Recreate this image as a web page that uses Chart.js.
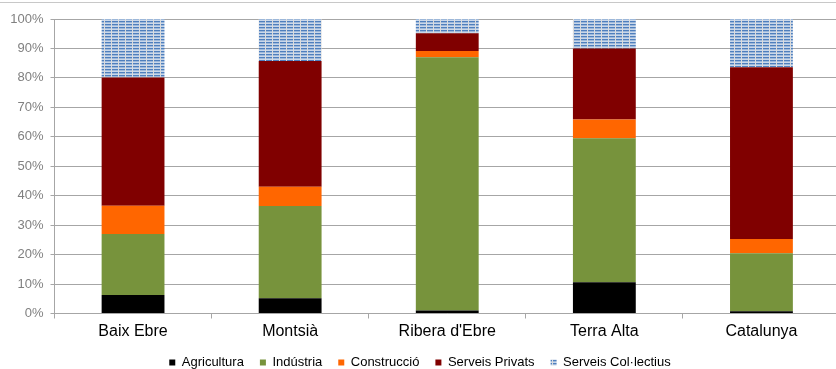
<!DOCTYPE html>
<html>
<head>
<meta charset="utf-8">
<script src="https://cdn.jsdelivr.net/npm/chart.js@4"></script>
<style>
    body { margin: 0; overflow: hidden; background: #fff; }
    #wrap { position: relative; width: 836px; height: 369px; overflow: hidden; }
    #frame { position: absolute; top: 2px; left: 0; width: 836px; border-top: 1px solid #c8c8c8; }
    canvas { position: absolute; top: 0; left: 0; }
</style>
</head>
<body>
<div id="wrap">
    <canvas id="chart" width="840" height="369"></canvas>
    <div id="frame"></div>
</div>
<script>
const categories = ["Baix Ebre", "Montsià", "Ribera d'Ebre", "Terra Alta", "Catalunya"];
const agricultura = [6.3, 5.2, 1.0, 10.6, 0.8];
const industria = [20.7, 31.3, 86.0, 48.9, 19.7];
const construccio = [9.6, 6.5, 2.1, 6.4, 4.8];
const serveisPrivats = [43.5, 42.7, 6.1, 24.1, 58.3];
const serveisCollectius = [19.9, 14.3, 4.8, 10.0, 16.4];
const yTicks = [0, 10, 20, 30, 40, 50, 60, 70, 80, 90, 100];

// striped fill for "Serveis Col·lectius"
function makePattern() {
    const c = document.createElement("canvas");
    c.width = 7;
    c.height = 3;
    const ctx = c.getContext("2d");
    const rows = ["#4f7fbd", "#9db8da", "#c9d7ea"];
    rows.forEach((col, i) => {
        ctx.fillStyle = col;
        ctx.fillRect(0, i, 7, 1);
    });
    ctx.fillStyle = "#dcdcdc";
    ctx.fillRect(6, 0, 1, 3);
    return ctx.createPattern(c, "repeat");
}

const axisGray = "#a6a6a6";
const font = "'Liberation Sans', Arial, sans-serif";

new Chart(document.getElementById("chart"), {
    type: "bar",
    data: {
        labels: categories,
        datasets: [
            { label: "Agricultura", data: agricultura, backgroundColor: "#000000" },
            { label: "Indústria", data: industria, backgroundColor: "#77933c" },
            { label: "Construcció", data: construccio, backgroundColor: "#ff6600" },
            { label: "Serveis Privats", data: serveisPrivats, backgroundColor: "#800000" },
            { label: "Serveis Col·lectius", data: serveisCollectius, backgroundColor: makePattern() },
        ],
    },
    options: {
        responsive: false,
        animation: false,
        categoryPercentage: 0.4,
        barPercentage: 1,
        layout: { padding: { top: 19, right: 0, left: 0, bottom: -10 } },
        scales: {
            x: {
                stacked: true,
                afterFit: (s) => { s.height = 26.5; },
                grid: { display: true, offset: true, drawOnChartArea: false, tickLength: 5, color: axisGray },
                border: { display: true, color: axisGray },
                ticks: { color: "#000", padding: 3, font: { family: font, size: 16 } },
            },
            y: {
                stacked: true,
                min: 0,
                max: 100,
                afterFit: (s) => { s.width = 54.5; },
                afterBuildTicks: (s) => { s.ticks = yTicks.map((v) => ({ value: v })); },
                grid: { color: axisGray, tickLength: 4 },
                border: { display: true, color: axisGray },
                ticks: {
                    color: "#808080",
                    padding: 7,
                    font: { family: font, size: 13 },
                    callback: (v) => v + "%",
                },
            },
        },
        plugins: {
            tooltip: { enabled: false },
            legend: {
                position: "bottom",
                labels: {
                    color: "#000",
                    boxWidth: 6,
                    boxHeight: 6,
                    padding: 16,
                    font: { family: font, size: 13 },
                },
            },
        },
    },
});
</script>
</body>
</html>
